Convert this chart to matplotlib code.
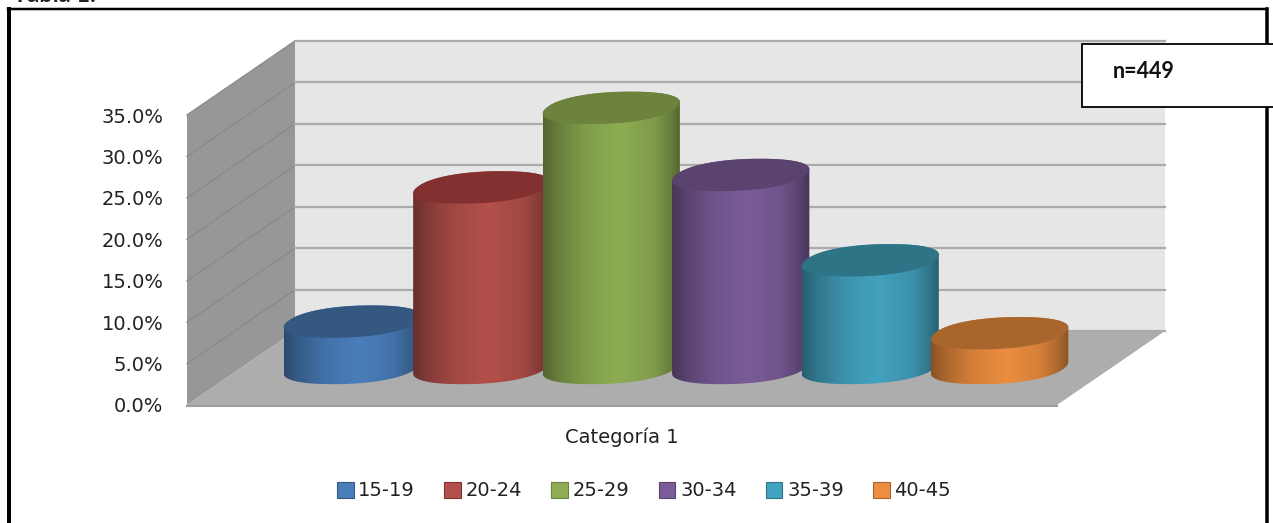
import numpy as np
import matplotlib
matplotlib.use("Agg")
import matplotlib.pyplot as plt
from matplotlib.patches import Polygon, Patch, Rectangle
from matplotlib.lines import Line2D

# datos
grupos = ["15-19", "20-24", "25-29", "30-34", "35-39", "40-45"]
valores = [5.6, 21.8, 31.4, 23.3, 13.0, 4.2]
colores = ["#4A7EBB", "#B4504C", "#8EAD52", "#7B5C99", "#43A2BF", "#EC8D40"]
tapas = ["#34587F", "#833130", "#6C823D", "#5B4370", "#2F7387", "#A9662C"]
marcas_y = [0, 5, 10, 15, 20, 25, 30, 35]
W, H = 1273, 523

plt.rcParams["font.family"] = ["DejaVu Sans"]

fig = plt.figure(figsize=(W / 100, H / 100), dpi=100)
ax = fig.add_axes([187 / W, (H - 405) / H, 870 / W, 290 / H])
ax.patch.set_visible(False)
for s in ax.spines.values():
    s.set_visible(False)

# profundidad de la caja 3D, en unidades de datos
dx = 0.834
dy = 8.93
x0, x1 = -0.86, 5.86
ymax = 35

# paredes y piso
ax.add_patch(Polygon([(x0 + dx, dy), (x1 + dx, dy), (x1 + dx, ymax + dy), (x0 + dx, ymax + dy)],
                     fc="#E6E6E6", ec="none", clip_on=False, zorder=1))
ax.add_patch(Polygon([(x0, 0), (x0 + dx, dy), (x0 + dx, ymax + dy), (x0, ymax)],
                     fc="#979797", ec="none", clip_on=False, zorder=1))
ax.add_patch(Polygon([(x0, 0), (x1, 0), (x1 + dx, dy), (x0 + dx, dy)],
                     fc="#ADADAD", ec="none", clip_on=False, zorder=2))
for v in marcas_y:
    if v > 0:
        ax.plot([x0, x0 + dx], [v, v + dy], color="#8A8A8A", lw=1, clip_on=False, zorder=2)
    ax.plot([x0 + dx, x1 + dx], [v + dy, v + dy], color="#ABABAB", lw=1.6, clip_on=False, zorder=2)
ax.plot([x0, x1], [-0.1, -0.1], color="#9C9C9C", lw=1.5, clip_on=False, zorder=3)

# cilindros
a = 0.5
bx = 0.15
by = 1.95
t = np.linspace(0, 2 * np.pi, 721)[:-1]
u = np.sign(np.cos(t)) * np.abs(np.cos(t)) ** 0.9
w = np.sign(np.sin(t)) * np.abs(np.sin(t)) ** 0.9
borde_x = a * u + bx * w
borde_y = by * w
i_der = int(np.argmax(borde_x))
i_izq = int(np.argmin(borde_x))
tono = np.interp(np.linspace(0, 1, 256), [0, 0.1, 0.3, 0.55, 0.8, 0.93, 1],
                 [0.58, 0.72, 0.9, 1.0, 0.9, 0.72, 0.58])

for i, (v, c, tapa) in enumerate(zip(valores, colores, tapas)):
    z = 5 + i
    cx = i + dx / 2
    base = dy / 2
    arriba = base + v
    # contorno: media tapa superior y frente inferior
    xa = cx + borde_x[i_der:i_izq + 1]
    ya = arriba + borde_y[i_der:i_izq + 1]
    orden = np.r_[i_izq:len(t), 0:i_der + 1]
    xb = cx + borde_x[orden]
    yb = base + borde_y[orden]
    cuerpo = Polygon(np.column_stack([np.r_[xa, xb], np.r_[ya, yb]]), fc="none", ec="none",
                     transform=ax.transData, clip_on=False, zorder=z)
    ax.add_patch(cuerpo)
    rgb = np.array(matplotlib.colors.to_rgb(c))
    grad = (tono[:, None] * rgb)[None, :, :]
    im = ax.imshow(grad, extent=[cx + borde_x.min(), cx + borde_x.max(), base - by - 1, arriba + by + 1],
                   aspect="auto", zorder=z, interpolation="bilinear")
    # la imagen se sale de los ejes: recortar solo con el cuerpo
    im.set_clip_path(cuerpo)
    im.set_clip_box(fig.bbox)
    ax.add_patch(Polygon(np.column_stack([cx + borde_x, arriba + borde_y]), fc=tapa, ec="none",
                         clip_on=False, zorder=z + 0.5))

ax.set_xlim(x0, x1)
ax.set_ylim(0, ymax)

# ejes
ax.set_yticks(marcas_y)
ax.set_yticklabels([f"{v:.1f}%" for v in marcas_y], fontsize=14, color="#222222")
ax.set_xticks([2.5])
ax.set_xticklabels(["Categoría 1"], fontsize=14, color="#222222")
ax.tick_params(axis="y", length=0, pad=17)
ax.tick_params(axis="x", length=0, pad=16)

# leyenda
asas = [Patch(fc=c, ec=t_, lw=0.8) for c, t_ in zip(colores, tapas)]
fig.legend(asas, grupos, loc="center", bbox_to_anchor=(644 / W, 1 - 491 / H), ncol=6, frameon=False,
           fontsize=14, handlelength=0.85, handleheight=0.85, handletextpad=0.25, columnspacing=1.5,
           labelcolor="#222222")

# marco exterior
for xs, ys, lw in [([9, 9], [9, H], 4), ([8, 1267], [9, 9], 2.5), ([1267, 1267], [9, H], 3.5)]:
    fig.add_artist(Line2D(np.array(xs) / W, 1 - np.array(ys) / H, color="black", lw=lw * 0.72, zorder=20))

# cuadro n
fig.add_artist(Rectangle((1082 / W, 1 - 107 / H), 215 / W, 63 / H, fc="white", ec="black", lw=1.3, zorder=21))
fig.text(1113 / W, 1 - 72 / H, "n=449", fontsize=15.5, fontweight="bold", family="Lato", color="#111111",
         va="center", zorder=22)

# titulo cortado arriba, igual que en el original
fig.text(13 / W, 1 - 2 / H, "Tabla 1.", fontsize=17, fontweight="bold", family="Lato", color="#222222",
         va="baseline")

fig.savefig("out.png", dpi=100)
